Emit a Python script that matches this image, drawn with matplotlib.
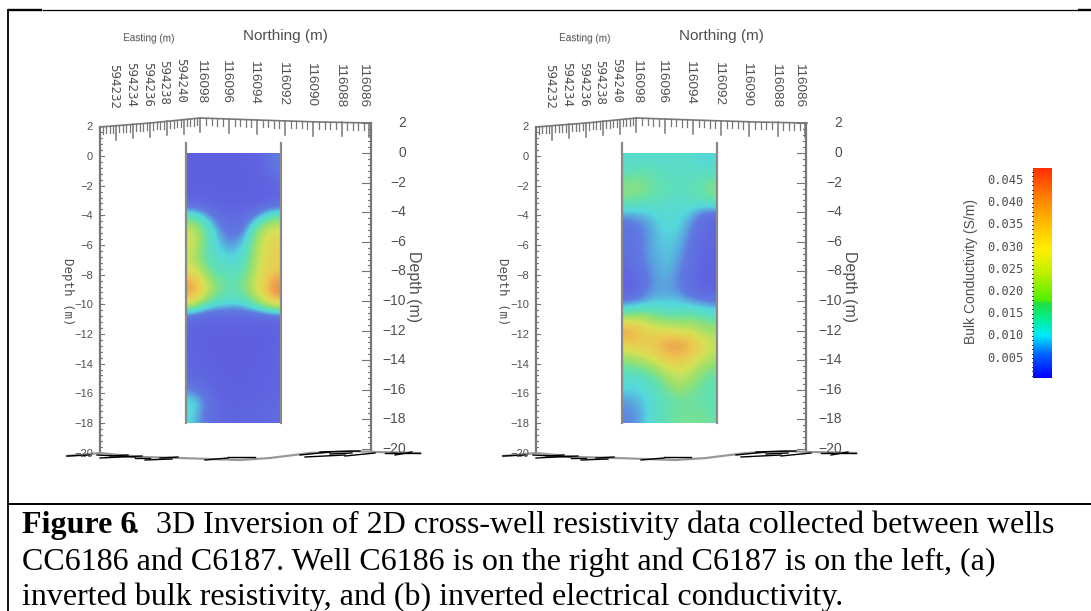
import numpy as np
import matplotlib
matplotlib.use("Agg")
import matplotlib.pyplot as plt
from matplotlib.colors import LinearSegmentedColormap

depth_ticks = [2, 0, -2, -4, -6, -8, -10, -12, -14, -16, -18, -20]
easting_labels = ["594232", "594234", "594236", "594238", "594240"]
northing_labels = ["116098", "116096", "116094", "116092", "116090", "116088", "116086"]
cbar_ticks = [0.045, 0.040, 0.035, 0.030, 0.025, 0.020, 0.015, 0.010, 0.005]

# Conductivity (10^-3 S/m): rows = depth 0 to -18 m, columns = well C6187 to C6186
panel_a = [
    [2, 2, 2, 2, 2, 2, 2.5, 4, 8],
    [2, 2, 2, 2, 2, 2, 2, 3, 6],
    [2, 2, 2, 2, 2, 2, 2, 2, 3],
    [3, 3, 2, 2, 2, 2, 2, 3, 3],
    [16, 13, 8, 5, 4, 5, 8, 13, 17],
    [24, 19, 13, 8, 6, 8, 17, 24, 26],
    [25, 18, 13, 10, 9, 12, 19, 26, 28],
    [22, 17, 14, 13, 12, 14, 20, 27, 28],
    [28, 22, 16, 15, 14, 16, 22, 28, 31],
    [38, 30, 21, 17, 16, 18, 24, 31, 41],
    [27, 20, 15, 14, 13, 14, 18, 24, 30],
    [4, 3, 3, 3, 3, 3, 3, 3, 3],
    [3, 2, 2, 2, 2, 2, 2, 2, 2.5],
    [2.5, 2, 2, 1.5, 1.5, 1.5, 2, 2, 2.5],
    [3, 2.5, 2, 1.5, 1.5, 2, 2, 2, 3],
    [3, 3, 2.5, 2, 2, 2, 2, 2.5, 3],
    [7, 5, 3, 2, 2, 2, 2, 3, 3],
    [13, 10, 5, 3, 2.5, 2.5, 3, 3, 4],
    [12, 8, 5, 3.5, 3, 3, 3.5, 4, 4],
]
panel_b = [
    [13, 13, 13, 13, 13, 13, 13, 12, 12],
    [15, 16, 16, 15, 14, 14, 14, 14, 14],
    [19, 19, 17, 16, 15, 14, 15, 16, 19],
    [16, 15, 15, 14, 13, 13, 14, 14, 15],
    [8, 9, 10, 12, 13, 12, 10, 6, 4],
    [6, 7, 9, 11, 12, 11, 8, 5, 3],
    [6, 7, 9, 11, 11, 10, 7, 4, 3],
    [5, 7, 9, 10, 11, 9, 6, 3, 2.5],
    [3, 5, 8, 10, 10, 8, 5, 3, 2],
    [2, 4, 8, 9, 9, 8, 4, 2.5, 2],
    [8, 9, 10, 11, 11, 11, 10, 9, 8],
    [18, 20, 19, 17, 16, 16, 17, 16, 15],
    [37, 32, 28, 26, 25, 24, 23, 21, 20],
    [28, 30, 30, 33, 37, 37, 34, 28, 24],
    [19, 21, 23, 27, 30, 30, 27, 24, 21],
    [14, 14, 16, 18, 22, 24, 22, 18, 16],
    [12, 12, 13, 15, 18, 20, 18, 16, 15],
    [9, 10, 12, 14, 15, 16, 16, 16, 15],
    [8, 9, 12, 14, 16, 17, 17, 17, 16],
]

caption_lines = [
    "CC6186 and C6187. Well C6186 is on the right and C6187 is on the left, (a)",
    "inverted bulk resistivity, and (b) inverted electrical conductivity.",
]

field_cmap = LinearSegmentedColormap.from_list("field", [
    (0.00, "#5f5fe0"), (0.13, "#5f7ae0"), (0.22, "#55d8dc"), (0.30, "#62e0b0"),
    (0.38, "#95e070"), (0.50, "#d8e055"), (0.62, "#ecc850"), (0.75, "#ec9a4c"),
    (0.90, "#e86a44"), (1.00, "#e65040")])
bar_cmap = LinearSegmentedColormap.from_list("bar", [
    (0.00, "#0000ff"), (0.11, "#0060ff"), (0.20, "#00e8ff"), (0.27, "#00f0a0"),
    (0.355, "#20e040"), (0.37, "#50f000"), (0.50, "#c0f000"), (0.61, "#fff000"),
    (0.73, "#ffc000"), (0.86, "#ff8000"), (1.00, "#ff3000")])

GRAY = "#505050"
NARROW = ["Liberation Sans Narrow", "Liberation Sans"]

fig = plt.figure(figsize=(10.91, 6.11), dpi=100)
ax = fig.add_axes([0, 0, 1, 1])
ax.axis("off")


def panel(grid, dx):
    ax.imshow(np.array(grid), cmap=field_cmap, vmin=1.5, vmax=48, aspect="auto",
              interpolation="bicubic", extent=(186 + dx, 281 + dx, 423, 153), zorder=1)
    for wx in (186, 281):
        ax.plot([wx + dx] * 2, [143, 423], color="#8a8a8a", lw=1.6, zorder=2)

    # top arc with ticks
    cx, cy = [100, 150, 200, 257, 320, 371], [127, 123, 118, 120, 122, 123]
    ax.plot(np.array(cx) + dx, cy, color="#777777", lw=1.2, zorder=2)
    majors = [116, 133, 150, 167, 184, 200, 229, 257, 285, 313, 342, 369]
    for i, m in enumerate(majors):
        y0 = np.interp(m, cx, cy)
        ax.plot([m + dx] * 2, [y0, y0 + 14], color="#777777", lw=1.1, zorder=2)
        if i + 1 < len(majors):
            for mm in np.linspace(m, majors[i + 1], 6)[1:-1]:
                y1 = np.interp(mm, cx, cy)
                ax.plot([mm + dx] * 2, [y1, y1 + 7], color="#777777", lw=0.9, zorder=2)
    for mm in np.linspace(100, 116, 6)[1:-1]:
        y1 = np.interp(mm, cx, cy)
        ax.plot([mm + dx] * 2, [y1, y1 + 7], color="#777777", lw=0.9, zorder=2)

    # side axes
    ax.plot([100 + dx] * 2, [127, 453], color="#777777", lw=1.6, zorder=2)
    ax.plot([371 + dx - (dx > 0)] * 2, [123, 451], color="#777777", lw=1.6, zorder=2)
    for d in np.arange(2, -20.01, -0.4):
        yl = 156 - d * 14.83
        yr = 153 - d * 14.8
        major = abs(d / 2 - round(d / 2)) < 1e-6
        ax.plot([100 + dx, 100 + dx + (4 if major else 2)], [yl, yl], color="#777777", lw=0.8, zorder=2)
        ax.plot([371 + dx - (dx > 0), 371 + dx - (dx > 0) - (9 if major else 3)], [yr, yr],
                color="#777777", lw=0.8, zorder=2)
    for d in depth_ticks:
        t = str(d).replace("-", "\u2212")
        ax.text(93 + dx, 157 - d * 14.83, t, ha="right", va="center", fontsize=8,
                color=GRAY, family=NARROW, zorder=3)
        ax.text(406 + dx, 153 - d * 14.8, t, ha="right", va="center", fontsize=10,
                color=GRAY, family="Liberation Sans", zorder=3)

    ax.text(67 + dx, 292, "Depth (m)", rotation=-90, ha="center", va="center", fontsize=9,
            color=GRAY, family="DejaVu Sans Mono", zorder=3)
    ax.text(413 + dx, 287, "Depth (m)", rotation=-90, ha="center", va="center", fontsize=11.5,
            color=GRAY, family="Liberation Sans", zorder=3)
    ax.text(149 + dx, 38, "Easting (m)", ha="center", va="center", fontsize=7.2, color=GRAY, family=NARROW,
            rotation=-1, zorder=3)
    ax.text(285 + dx, 36, "Northing (m)", ha="center", va="center", fontsize=11, color=GRAY,
            family="Liberation Sans", zorder=3)

    for x, t, yc in zip([114, 131, 148, 164, 181], easting_labels, [87, 85, 84, 83, 81]):
        ax.text(x + dx, yc, t, rotation=-90, ha="center", va="center", fontsize=9,
                color=GRAY, family="DejaVu Sans Mono", zorder=3)
    for x, t, yc in zip([201, 226, 254, 283, 311, 340, 363], northing_labels, [81, 81, 82, 83, 84, 85, 85]):
        ax.text(x + dx, yc, t, rotation=-90, ha="center", va="center", fontsize=9.7,
                color=GRAY, family="Liberation Sans", zorder=3)

    # distorted floor of the 3D box
    ax.plot(np.array([67, 100, 140, 180, 210, 240, 270, 310, 350, 375, 420]) + dx,
            [456, 453, 457, 458, 459, 460, 458, 453, 451, 452, 453], color="#999999", lw=1.6, zorder=2)
    strokes = [([67, 90], [456, 455]), ([97, 135], [455, 457]), ([100, 142], [458, 456]),
               ([110, 128], [456, 455]), ([135, 150], [458, 458]), ([160, 178], [458, 457]),
               ([145, 172], [460, 459]), ([205, 228], [460, 458]), ([228, 255], [457, 457]),
               ([300, 330], [455, 452]), ([305, 345], [457, 455]), ([320, 360], [452, 451]),
               ([330, 352], [454, 453]), ([345, 375], [456, 453]), ([385, 420], [453, 453]),
               ([395, 412], [455, 452])]
    for sx, sy in strokes:
        ax.plot(np.array(sx) + dx, sy, color="black", lw=1.0, zorder=2)


panel(panel_a, 0)
panel(panel_b, 436)

# colour bar
bar_values = np.linspace(0.0478, 0.0005, 256).reshape(-1, 1)
ax.imshow(bar_values, cmap=bar_cmap, vmin=0.0005, vmax=0.0478, aspect="auto",
          extent=(1033, 1052, 378, 168), zorder=1)
for v in np.arange(0.001, 0.0476, 0.001):
    y = 358 - (v - 0.005) / 0.005 * 22.17
    ax.plot([1031.5, 1033], [y, y], color="#444444", lw=0.7, zorder=2)
for v in cbar_ticks:
    y = 358 - (v - 0.005) / 0.005 * 22.17
    ax.text(1024, y, f"{v:.3f}", ha="right", va="center", fontsize=8.7, color=GRAY,
            family="DejaVu Sans Mono", zorder=3)
ax.text(971, 272, "Bulk Conductivity (S/m)", rotation=90, ha="center", va="center", fontsize=10,
        color=GRAY, family="Liberation Sans", zorder=3)

# page rules
ax.plot([8, 8], [9, 611], color="black", lw=1.3, solid_capstyle="butt", zorder=4)
ax.plot([7.5, 42], [10, 10], color="black", lw=1.7, solid_capstyle="butt", zorder=4)
ax.plot([42, 1078], [9.6, 9.6], color="black", lw=0.9, solid_capstyle="butt", zorder=4)
ax.plot([1078, 1091], [10, 10], color="black", lw=1.7, solid_capstyle="butt", zorder=4)
ax.plot([8, 1091], [504, 504], color="black", lw=1.4, solid_capstyle="butt", zorder=4)

# caption
serif = "Liberation Serif"
head = ax.text(22, 533, "Figure 6", fontsize=23, fontweight="bold", family=serif, va="baseline", color="black")
ax.annotate(".  3D Inversion of 2D cross-well resistivity data collected between wells",
            xy=(1, 0), xycoords=head, xytext=(-3.5, 0), textcoords="offset points",
            va="bottom", fontsize=23, family=serif, color="black", annotation_clip=False)
ax.text(22, 570, caption_lines[0], fontsize=23, family=serif, va="baseline", color="black")
ax.text(22, 605, caption_lines[1], fontsize=23, family=serif, va="baseline", color="black")

ax.set_xlim(0, 1091)
ax.set_ylim(611, 0)
fig.savefig("out.png", dpi=100, facecolor="white")
